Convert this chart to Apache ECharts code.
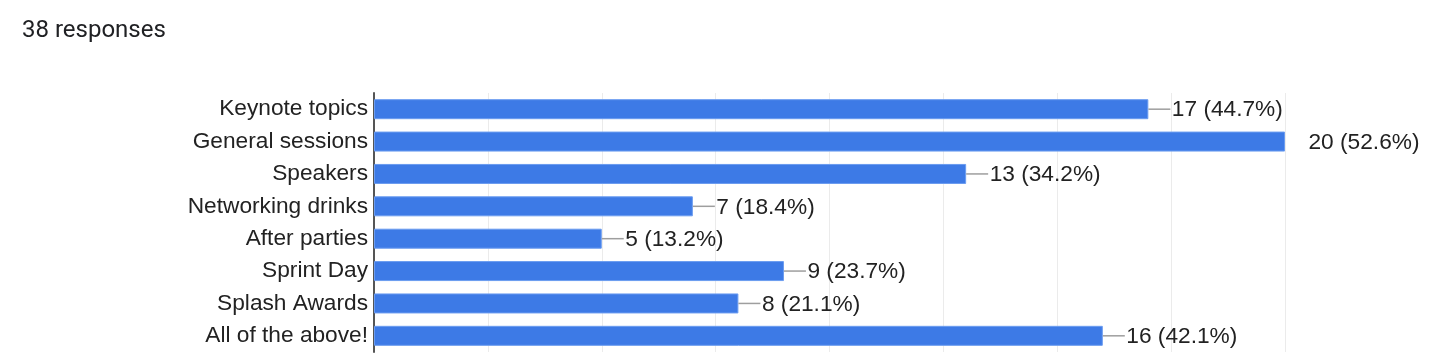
<!DOCTYPE html>
<html>
<head>
<meta charset="utf-8">
<script src="https://cdn.jsdelivr.net/npm/echarts@6/dist/echarts.min.js"></script>
<style>
html,body{margin:0;padding:0;background:#fff;}
#chart{width:1444px;height:362px;}
</style>
</head>
<body>
<div id="chart"></div>
<script>
const totalResponses = 38;
const categories = ["Keynote topics","General sessions","Speakers","Networking drinks","After parties","Sprint Day","Splash Awards","All of the above!"];
const counts = [17, 20, 13, 7, 5, 9, 8, 16];
const axisMax = 20;
const axisInterval = 2.5;

const chart = echarts.init(document.getElementById('chart'));
const labelFont = '"Liberation Sans", Arial, sans-serif';

chart.setOption({
  animation: false,
  title: {
    text: totalResponses + ' responses',
    left: 22, top: 19, padding: 0,
    textStyle: { fontFamily: 'Roboto, sans-serif', fontSize: 24, fontWeight: 'normal', color: '#202124' }
  },
  grid: { left: 374, right: 159, top: 93, height: 259 },
  xAxis: {
    type: 'value', min: 0, max: axisMax, interval: axisInterval,
    axisLabel: { show: false }, axisTick: { show: false }, axisLine: { show: false },
    splitLine: { lineStyle: { color: '#ebebeb', width: 1 } }
  },
  yAxis: {
    type: 'category', data: categories, inverse: true,
    axisTick: { show: false },
    axisLine: { lineStyle: { color: '#555', width: 2 } },
    axisLabel: { margin: 6, fontFamily: labelFont, fontSize: 22.7, color: '#222', padding: [2, 0, 0, 0] }
  },
  series: [
    {
      type: 'bar', data: counts, barWidth: 20,
      itemStyle: { color: '#3d7ae6', borderColor: '#6b9cf0', borderWidth: 1 }
    },
    {
      type: 'custom', clip: false, z: 5,
      data: counts.map((v, i) => [v, i]),
      encode: { x: 0, y: 1 },
      renderItem: function (params, api) {
        const v = api.value(0);
        const end = api.coord([v, api.value(1)]);
        const gridRight = params.coordSys.x + params.coordSys.width;
        const lineEnd = Math.min(end[0] + 22, gridRight);
        const children = [];
        if (lineEnd > end[0] + 1) {
          children.push({ type: 'line', shape: { x1: end[0], y1: end[1], x2: lineEnd, y2: end[1] },
            style: { stroke: '#9e9e9e', lineWidth: 1.5 } });
        }
        children.push({ type: 'text', x: end[0] + 23.5, y: end[1] + 1,
          style: { text: v + ' (' + (v / totalResponses * 100).toFixed(1) + '%)',
            fontFamily: labelFont, fontSize: 22.7, fill: '#222', verticalAlign: 'middle', align: 'left' } });
        return { type: 'group', children: children };
      }
    }
  ]
});
</script>
</body>
</html>
